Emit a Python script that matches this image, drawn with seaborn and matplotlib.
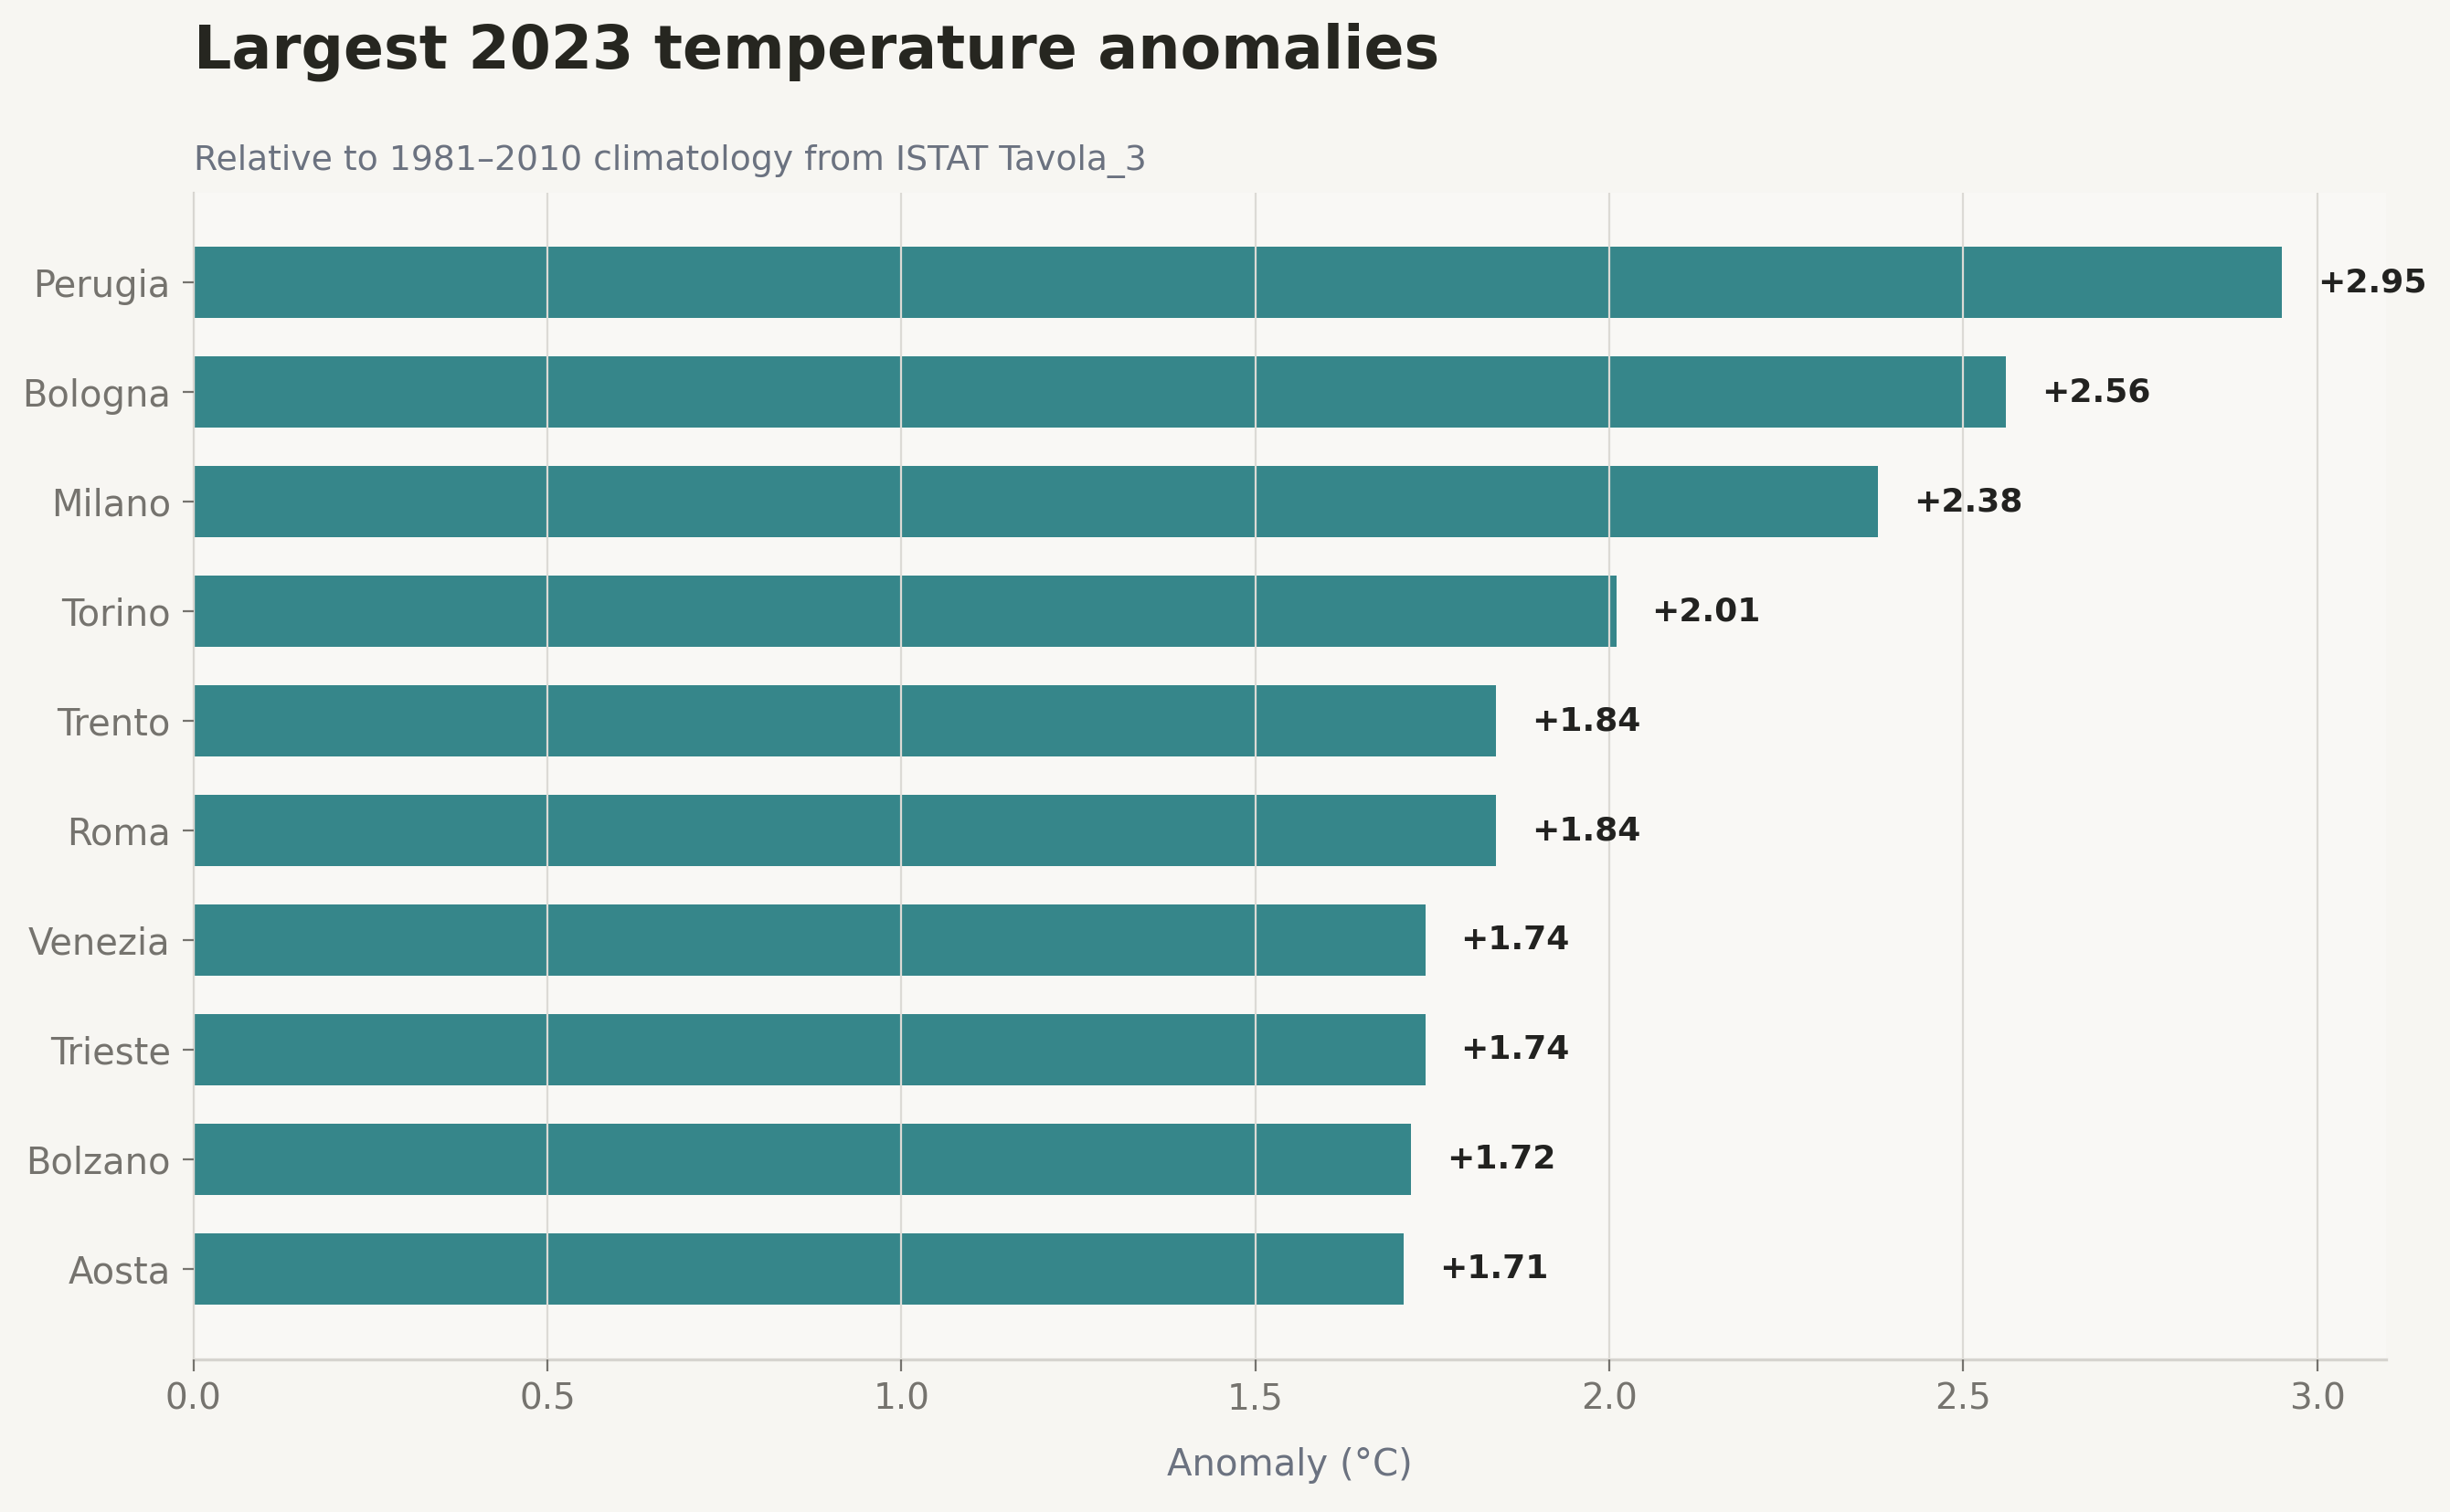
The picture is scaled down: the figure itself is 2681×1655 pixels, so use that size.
import matplotlib
matplotlib.use('Agg')
import matplotlib.pyplot as plt
import seaborn as sns

# dati
cities = ['Perugia', 'Bologna', 'Milano', 'Torino', 'Trento',
          'Roma', 'Venezia', 'Trieste', 'Bolzano', 'Aosta']
anomalies = [2.95, 2.56, 2.38, 2.01, 1.84, 1.84, 1.74, 1.74, 1.72, 1.71]

BG = '#F7F6F2'
AX_BG = '#F9F8F5'
TEAL = '#36868A'

sns.set_theme(style='white')
plt.rcParams['font.family'] = ['DejaVu Sans']

fig, ax = plt.subplots(figsize=(13.405, 8.275), dpi=200)
fig.patch.set_facecolor(BG)
ax.set_facecolor(AX_BG)
fig.subplots_adjust(left=0.079, right=0.974, top=0.8725, bottom=0.101)

sns.barplot(x=anomalies, y=cities, orient='h', color=TEAL, saturation=1,
            width=0.65, linewidth=0, ax=ax)

for i, v in enumerate(anomalies):
    ax.text(v + 0.05, i, '+%.2f' % v, ha='left', va='center',
            fontsize=13, fontweight='bold', color='#222220')

ax.set_xlim(0, max(anomalies) * 1.05)
ax.set_ylim(len(cities) - 1 + 0.82, -0.82)

ax.set_axisbelow(False)
ax.grid(axis='x', color='#DCDAD5', linewidth=0.8)
ax.grid(axis='y', visible=False)

for s in ['top', 'right']:
    ax.spines[s].set_visible(False)
ax.spines['left'].set_color('#D6D4CF')
ax.spines['left'].set_linewidth(0.8)
ax.spines['bottom'].set_color('#D6D4CF')
ax.spines['bottom'].set_linewidth(1.2)

ax.tick_params(axis='both', which='major', labelsize=14, colors='#75736E',
               length=4.5, width=0.8, pad=4.5, left=True, bottom=True)
ax.tick_params(axis='y', labelsize=14.4)
ax.set_ylabel('')
ax.set_xlabel('Anomaly (°C)', fontsize=14.5, color='#6B7280', labelpad=12)

fig.text(0.079, 0.9547, 'Largest 2023 temperature anomalies', fontsize=23.4,
         fontweight='bold', color='#262620', ha='left', va='baseline')
fig.text(0.079, 0.8876, 'Relative to 1981–2010 climatology from ISTAT Tavola_3',
         fontsize=13.6, color='#6B7280', ha='left', va='baseline')

plt.savefig('out.png', dpi=200, facecolor=BG)
